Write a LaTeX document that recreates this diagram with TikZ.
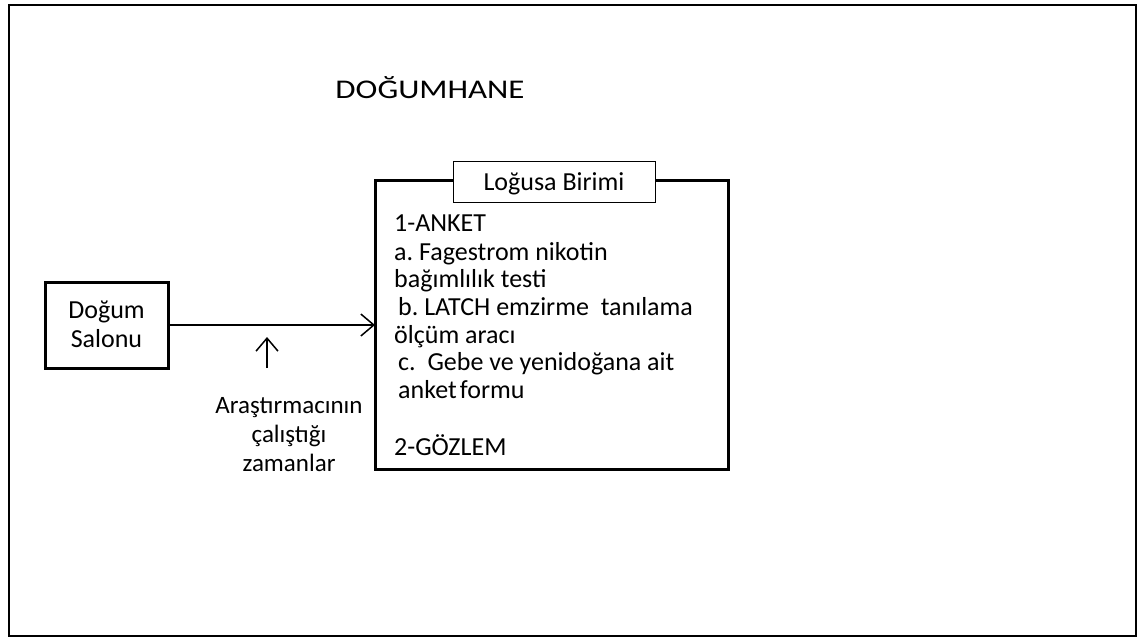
\documentclass[tikz,border=0pt]{standalone}
\usepackage{fontspec}
\setmainfont{Carlito}
\usetikzlibrary{arrows.meta}
\frenchspacing
\begin{document}
\begin{tikzpicture}[x=1pt,y=-1pt,
  txt/.style={inner sep=0pt,font=\fontsize{26}{30}\selectfont},
  bodyline/.style={txt,anchor=base west},
  barb/.style={-{Straight Barb[length=13pt,width=22pt,line width=1.5pt]},line width=1.5pt}]
\useasboundingbox (0,0) rectangle (1140,639);
\draw[line width=2pt] (9,5) rectangle (1136,636);
\node[txt,anchor=base] (title) at (430,99) {\fontsize{27}{30}\selectfont\scalebox{1.22}[1]{DOĞUMHANE}};
\draw[line width=3pt] (375,181) rectangle (728,469);
\node[draw,line width=1pt,fill=white,minimum width=202pt,minimum height=41pt] (lbox) at (554,182.5) {};
\node[txt,anchor=base] (ltxt) at (554,191) {Loğusa Birimi};
\node[bodyline] (l1) at (394,232) {1-ANKET};
\node[bodyline] (l2) at (394,260) {a. Fagestrom nikotin};
\node[bodyline] (l3) at (394,287.5) {bağımlılık testi};
\node[bodyline] (l4) at (398,315) {b. LATCH emzirme\ \ tanılama};
\node[bodyline] (l5) at (394,343) {ölçüm aracı};
\node[bodyline] (l6) at (398,370.5) {c.\ \ Gebe ve yenidoğana ait};
\node[bodyline] (l7) at (398,398) {anket\hspace{0.12em}formu};
\node[bodyline] (l9) at (394,455) {2-GÖZLEM};
\node[draw,line width=3pt,minimum width=123pt,minimum height=86pt] (salon) at (106.5,325) {};
\node[txt,anchor=base] (s1) at (106.5,318) {Doğum};
\node[txt,anchor=base] (s2) at (106.5,347) {Salonu};
\coordinate (bigin) at (375,325);
\draw[barb] (salon.east |- bigin) -- (bigin);
\coordinate (ua) at (267,368);
\coordinate (ub) at (267,337);
\draw[barb] (ua) -- (ub);
\node[txt,anchor=base,font=\fontsize{25}{30}\selectfont] (a1) at (289,413) {Araştırmacının};
\node[txt,anchor=base,font=\fontsize{25}{30}\selectfont] (a2) at (289,442) {çalıştığı};
\node[txt,anchor=base,font=\fontsize{25}{30}\selectfont] (a3) at (289,471) {zamanlar};
\end{tikzpicture}
\end{document}
